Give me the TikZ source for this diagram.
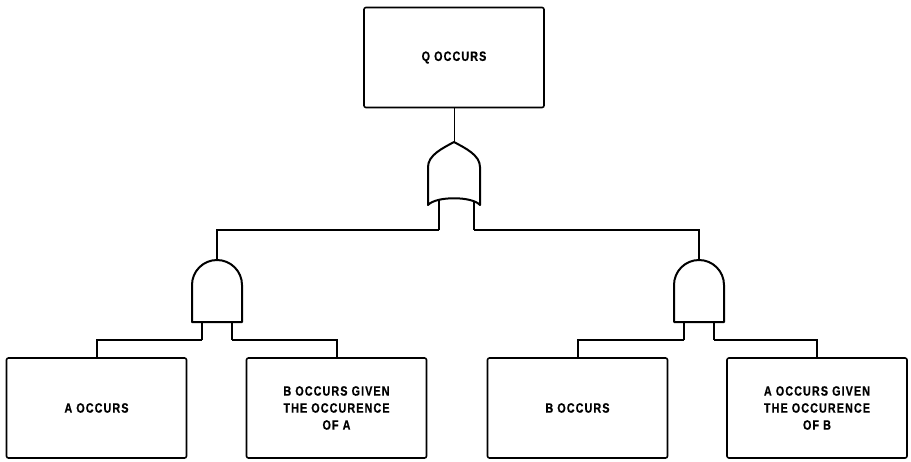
\documentclass[tikz,border=0pt]{standalone}
\usepackage{fontspec}
\newfontfamily\eventfont{Liberation Sans}[FakeStretch=0.8,LetterSpace=8,FakeBold=0.6]

\tikzset{
  event/.style={draw, line width=1.6pt, rounded corners=2pt, minimum width=180pt,
    minimum height=100pt, inner sep=0pt, align=center,
    font=\eventfont\bfseries\fontsize{13.5}{17}\selectfont},
  gate/.style={line width=2pt, fill=white, line join=round},
  link/.style={line width=2pt},
  stem/.style={line width=1pt},
  % AND gate, origin at its output
  andgate/.pic={
    \draw[link] (-15,40) -- (-15,80) coordinate (-in1);
    \draw[link] (15,40) -- (15,80) coordinate (-in2);
    \draw[gate] (-25,62) -- (-25,25) .. controls (-25,11.2) and (-13.8,0) .. (0,0)
      .. controls (13.8,0) and (25,11.2) .. (25,25) -- (25,62) -- cycle;
    \coordinate (-out) at (0,0);
  },
  % OR gate, origin at its output
  orgate/.pic={
    \draw[link] (-15,40) -- (-15,88) coordinate (-in1);
    \draw[link] (20,40) -- (20,88) coordinate (-in2);
    \draw[gate] (-26,63) -- (-26,25) .. controls (-26,13) and (-11,6) .. (0,0)
      .. controls (11,6) and (26,13) .. (26,25) -- (26,63)
      .. controls (18,54) and (-18,54) .. (-26,63) -- cycle;
    \coordinate (-out) at (0,0);
  }
}

\begin{document}
\begin{tikzpicture}[x=1pt, y=-1pt]
  \useasboundingbox (0,0) rectangle (911,461);

  % Top event
  \node[event] (q) at (454,57.5) {Q OCCURS};

  % Gates
  \pic (or) at (454,142) {orgate};
  \pic (andL) at (217,260) {andgate};
  \pic (andR) at (699,260) {andgate};

  % Basic events
  \node[event] (a) at (96.5,408) {A OCCURS};
  \node[event] (bga) at (336.5,408) {B OCCURS GIVEN\\THE OCCURENCE\\OF A};
  \node[event] (b) at (577.5,408) {B OCCURS};
  \node[event] (agb) at (817,408) {A OCCURS GIVEN\\THE OCCURENCE\\OF B};

  % Connections
  \draw[stem] (q.south) -- (or-out);
  \draw[link] (or-in1) -| (andL-out);
  \draw[link] (or-in2) -| (andR-out);
  \draw[link] (andL-in1) -| (a.north);
  \draw[link] (andL-in2) -| (bga.north);
  \draw[link] (andR-in1) -| (b.north);
  \draw[link] (andR-in2) -| (agb.north);
\end{tikzpicture}
\end{document}
